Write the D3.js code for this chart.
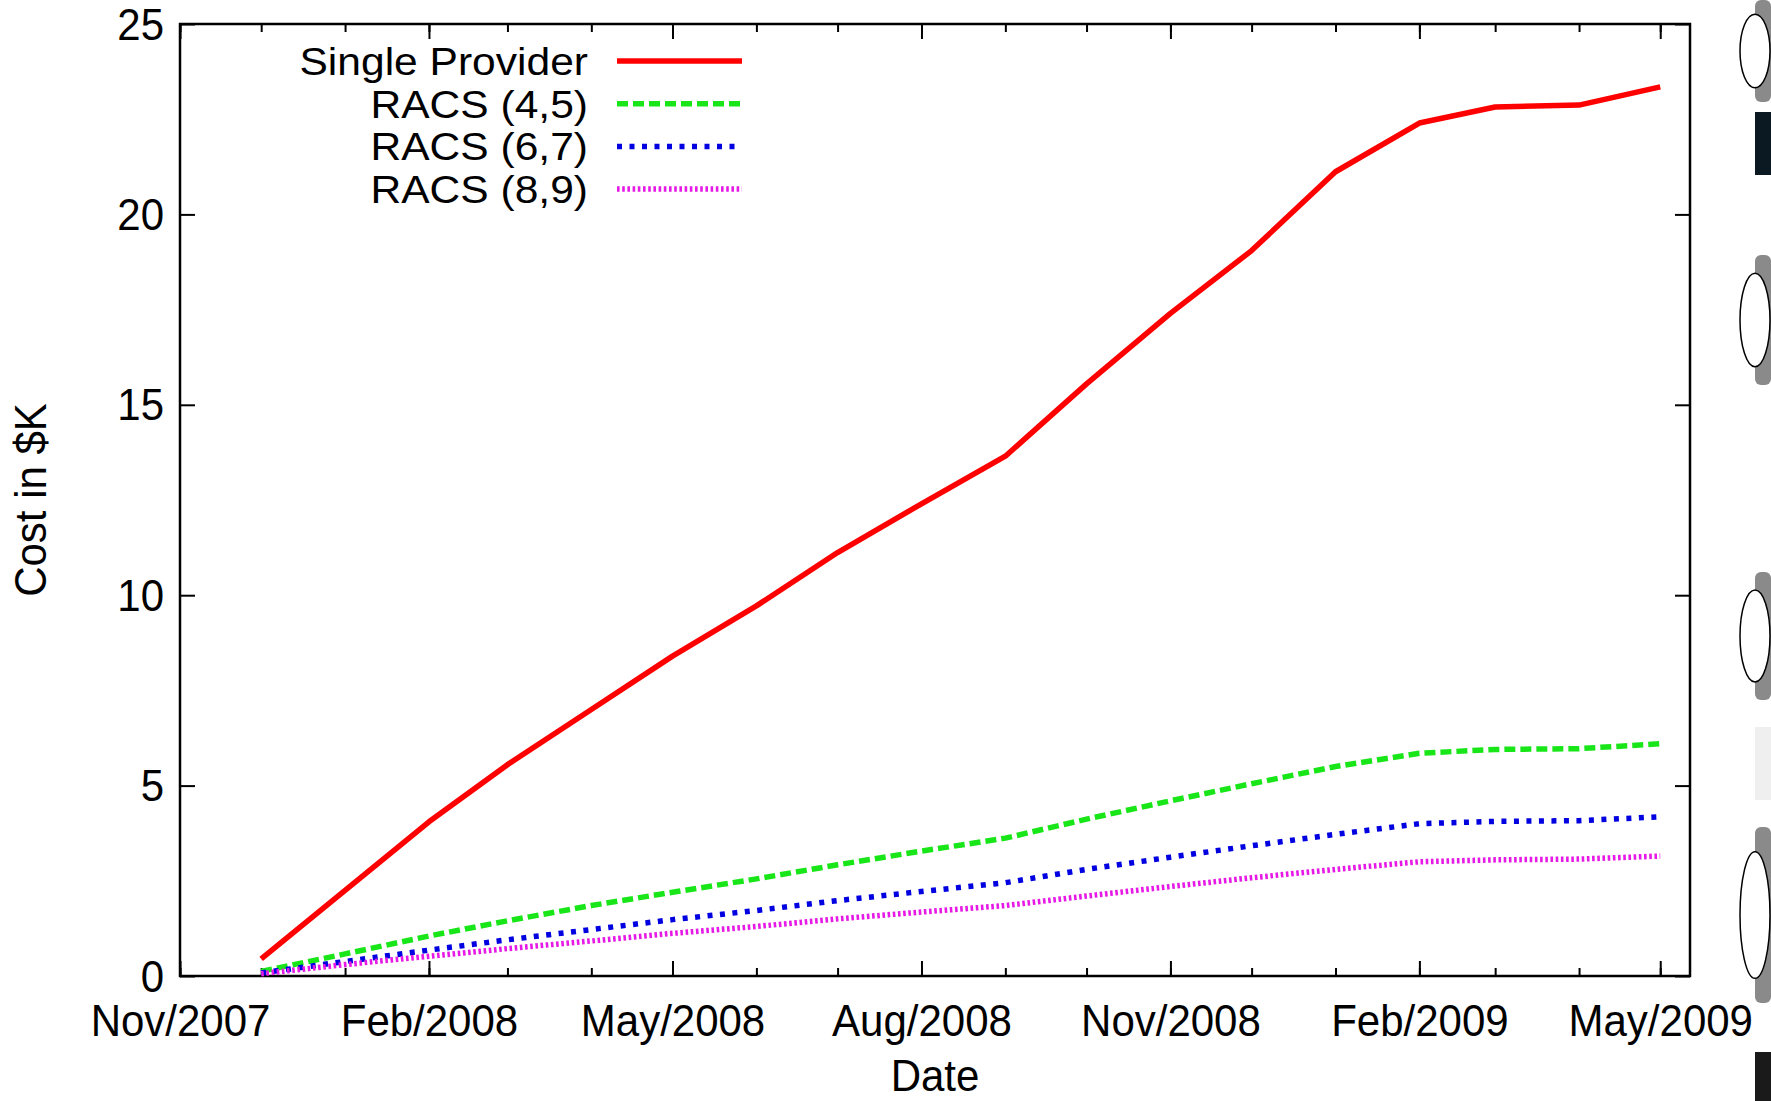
<!DOCTYPE html>
<html><head><meta charset="utf-8">
<script src="https://cdn.jsdelivr.net/npm/d3@7"></script>
<style>body{margin:0;background:#fff}svg{display:block}text{font-family:"Liberation Sans",Arial,Helvetica,sans-serif;fill:#000}</style>
</head><body><svg id="c" width="1771" height="1101"></svg>
<script>
// ---- data ----
const months = ["2007-12-01","2008-01-01","2008-02-01","2008-03-01","2008-04-01","2008-05-01","2008-06-01","2008-07-01","2008-08-01","2008-09-01","2008-10-01","2008-11-01","2008-12-01","2009-01-01","2009-02-01","2009-03-01","2009-04-01","2009-05-01"];
const singleProvider = [0.45,2.25,4.05,5.55,7.0,8.4,9.72,11.12,12.4,13.65,15.55,17.4,19.05,21.12,22.4,22.82,22.87,23.35];
const racs45 = [0.12,0.58,1.05,1.45,1.85,2.2,2.55,2.92,3.28,3.62,4.12,4.6,5.05,5.5,5.85,5.95,5.97,6.1];
const racs67 = [0.08,0.38,0.68,0.95,1.22,1.48,1.72,1.98,2.22,2.45,2.8,3.12,3.42,3.72,4.0,4.06,4.08,4.18];
const racs89 = [0.06,0.3,0.52,0.72,0.92,1.12,1.3,1.5,1.68,1.85,2.1,2.35,2.58,2.8,3.0,3.05,3.07,3.15];
const seriesNames = ["Single Provider","RACS (4,5)","RACS (6,7)","RACS (8,9)"];
const xTickDates = ["2007-11-01","2008-02-01","2008-05-01","2008-08-01","2008-11-01","2009-02-01","2009-05-01"];
const xTickLabels = ["Nov/2007","Feb/2008","May/2008","Aug/2008","Nov/2008","Feb/2009","May/2009"];
const yTicks = [0,5,10,15,20,25];
const xLabel = "Date", yLabel = "Cost in $K";

// ---- layout / style ----
const m = {l:180, r:1690, t:24, b:976};
const FS = 42, SY = 1.05;
const LFS = 38, LSX = 1.12;
const styles = [
  {color:"#ff0000", dash:null},
  {color:"#19e619", dash:"11,5"},
  {color:"#0000e0", dash:"5,7.5"},
  {color:"#e619e6", dash:"2.6,2.6"}
];
const parse = d3.timeParse("%Y-%m-%d");
const x = d3.scaleTime().domain([parse("2007-11-01"), parse("2009-05-12")]).range([m.l, m.r]);
const y = d3.scaleLinear().domain([0,25]).range([m.b, m.t]);
const svg = d3.select("#c");
svg.append("rect").attr("width",1771).attr("height",1101).attr("fill","#fff");

function stretch(sel, sx=1, sy=SY){
  sel.each(function(){
    const t = d3.select(this);
    const xx = +t.attr("x")||0, yy = +t.attr("y")||0;
    t.attr("x",0).attr("y",0).attr("dy",null)
     .attr("transform",`translate(${xx},${yy}) scale(${sx},${sy})`);
  });
}

// axes
const minor = d3.timeMonth.range(parse("2007-11-01"), parse("2009-05-12"));
function styleAxis(g){
  g.select(".domain").remove();
  g.selectAll("line").attr("stroke","#000").attr("stroke-width",2);
}
const xb = svg.append("g").attr("transform",`translate(0,${m.b})`)
  .call(d3.axisBottom(x).tickValues(minor).tickSize(-8).tickFormat(""));
styleAxis(xb);
const xt = svg.append("g").attr("transform",`translate(0,${m.t})`)
  .call(d3.axisTop(x).tickValues(minor).tickSize(-8).tickFormat(""));
styleAxis(xt);
const xtM = svg.append("g").attr("transform",`translate(0,${m.t})`)
  .call(d3.axisTop(x).tickValues(xTickDates.map(parse)).tickSize(-15).tickFormat(""));
styleAxis(xtM);
const xbM = svg.append("g").attr("transform",`translate(0,${m.b})`)
  .call(d3.axisBottom(x).tickValues(xTickDates.map(parse)).tickSize(-15).tickPadding(0)
        .tickFormat((d,i)=>xTickLabels[i]));
styleAxis(xbM);
xbM.selectAll("text").attr("y",60).attr("font-size",FS).attr("font-family",null).attr("fill","#000").call(stretch);

const yl = svg.append("g").attr("transform",`translate(${m.l},0)`)
  .call(d3.axisLeft(y).tickValues(yTicks).tickSize(-15).tickPadding(0));
styleAxis(yl);
yl.selectAll("text").attr("x",-16).attr("y",15).attr("font-size",FS).attr("font-family",null).attr("fill","#000").call(stretch);
const yr = svg.append("g").attr("transform",`translate(${m.r},0)`)
  .call(d3.axisRight(y).tickValues(yTicks).tickSize(-15).tickFormat(""));
styleAxis(yr);

// frame
svg.append("rect").attr("x",m.l).attr("y",m.t).attr("width",m.r-m.l).attr("height",m.b-m.t)
  .attr("fill","none").attr("stroke","#000").attr("stroke-width",2.5);

// series
const allSeries = [singleProvider, racs45, racs67, racs89];
const line = d3.line().x(d=>x(d.date)).y(d=>y(d.v));
allSeries.forEach((vals,i)=>{
  const pts = vals.map((v,j)=>({date:parse(months[j]), v}));
  svg.append("path").datum(pts).attr("d",line).attr("fill","none")
    .attr("stroke",styles[i].color).attr("stroke-width",5.5)
    .attr("stroke-dasharray",styles[i].dash).attr("stroke-linejoin","round");
});

// legend
seriesNames.forEach((name,i)=>{
  const cy = 61 + i*42.7;
  svg.append("text").attr("x",588).attr("y",cy+14).attr("text-anchor","end")
    .attr("font-size",LFS).text(name).call(stretch, LSX, 1);
  svg.append("line").attr("x1",617).attr("x2",742).attr("y1",cy).attr("y2",cy)
    .attr("stroke",styles[i].color).attr("stroke-width",5.5).attr("stroke-dasharray",styles[i].dash);
});

// axis titles
svg.append("text").attr("x",(m.l+m.r)/2).attr("y",1091).attr("text-anchor","middle")
  .attr("font-size",FS).text(xLabel).call(stretch);
svg.append("text").attr("text-anchor","middle").attr("font-size",FS)
  .attr("transform",`translate(46,${(m.t+m.b)/2}) rotate(-90) scale(1,${SY})`).text(yLabel);

// right-edge page fragments (decoration seen in the source image)
const deco = svg.append("g");
[[0,102],[255,385],[572,700],[827,1003]].forEach(([a,b])=>{
  deco.append("rect").attr("x",1755).attr("y",a).attr("width",16).attr("height",b-a).attr("rx",6).attr("fill","#8a8a8a");
  deco.append("ellipse").attr("cx",1755).attr("cy",(a+b)/2).attr("rx",15).attr("ry",(b-a)*0.36)
    .attr("fill","#fff").attr("stroke","#000").attr("stroke-width",1.5);
});
deco.append("rect").attr("x",1755).attr("y",112).attr("width",16).attr("height",63).attr("fill","#0b1a22");
deco.append("rect").attr("x",1755).attr("y",727).attr("width",16).attr("height",73).attr("fill","#efefef");
deco.append("rect").attr("x",1755).attr("y",1052).attr("width",16).attr("height",49).attr("fill","#1a1a1a");
</script></body></html>
